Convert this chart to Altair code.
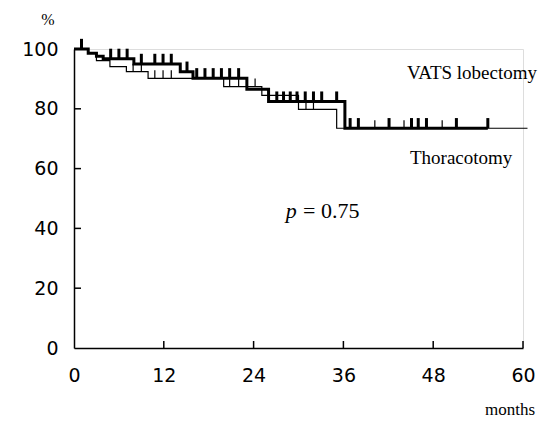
import altair as alt
import pandas as pd

# Kaplan-Meier step curves (months, % surviving)
vats_time = [0, 1.9, 3.0, 3.9, 8.0, 14.2, 15.9, 23.1, 26.0, 36.2, 55.3]
vats_surv = [100, 98.6, 97.6, 96.7, 95.0, 92.4, 90.2, 86.5, 82.4, 73.5, 73.5]
thor_time = [0, 1.9, 3.0, 4.8, 7.0, 9.9, 20.0, 25.1, 30.0, 35.1, 60.6]
thor_surv = [100, 98.6, 96.1, 94.1, 92.4, 90.2, 87.4, 84.5, 79.8, 73.5, 73.5]

# censored observations (months)
vats_censor = [1.0, 4.9, 6.0, 7.1, 9.0, 10.8, 11.9, 13.0, 15.1, 16.4, 17.5, 18.6,
               19.7, 20.8, 22.0, 27.1, 28.0, 28.9, 29.8, 30.9, 32.0, 33.1, 35.1,
               36.9, 38.0, 42.1, 45.1, 46.0, 47.1, 51.1, 55.3]
thor_censor = [7.9, 9.0, 10.8, 11.9, 13.0, 20.8, 22.0, 24.2, 31.0, 32.0, 40.2, 44.1, 49.2]

x_ticks = [0, 12, 24, 36, 48, 60]
y_ticks = [0, 20, 40, 60, 80, 100]


def step_value(times, vals, t):
    v = vals[0]
    for tt, vv in zip(times, vals):
        if tt <= t:
            v = vv
    return v


vats_df = pd.DataFrame({"t": vats_time, "s": vats_surv})
thor_df = pd.DataFrame({"t": thor_time, "s": thor_surv})
vc_df = pd.DataFrame({"t": vats_censor, "s": [step_value(vats_time, vats_surv, t) for t in vats_censor]})
tc_df = pd.DataFrame({"t": thor_censor, "s": [step_value(thor_time, thor_surv, t) for t in thor_censor]})

W, H = 449, 299
xs = alt.Scale(domain=[0, 60], nice=False)
ys = alt.Scale(domain=[0, 100], nice=False)

x_axis = alt.Axis(values=x_ticks, title=None, ticks=False, tickSize=0, grid=False,
                  labelFont="DejaVu Sans", labelFontSize=19, labelColor="black",
                  labelPadding=18, domainColor="black", domainWidth=1.5,
                  labelFlush=False)
y_axis = alt.Axis(values=y_ticks, title=None, ticks=False, tickSize=0, grid=False,
                  labelFont="DejaVu Sans", labelFontSize=19, labelColor="black",
                  labelPadding=16, domainColor="black", domainWidth=1.5,
                  labelFlush=False)

thor_line = alt.Chart(thor_df).mark_line(interpolate="step-after", color="black",
                                          strokeWidth=1.2).encode(
    x=alt.X("t:Q", scale=xs, axis=x_axis),
    y=alt.Y("s:Q", scale=ys, axis=y_axis),
)
vats_line = alt.Chart(vats_df).mark_line(interpolate="step-after", color="black",
                                          strokeWidth=3).encode(
    x=alt.X("t:Q", scale=xs),
    y=alt.Y("s:Q", scale=ys),
)
thor_cens = alt.Chart(tc_df).transform_calculate(top="datum.s + 2.7").mark_rule(
    color="black", strokeWidth=1.2).encode(
    x=alt.X("t:Q", scale=xs), y=alt.Y("s:Q", scale=ys), y2="top:Q")
vats_cens = alt.Chart(vc_df).transform_calculate(top="datum.s + 3.4").mark_rule(
    color="black", strokeWidth=3).encode(
    x=alt.X("t:Q", scale=xs), y=alt.Y("s:Q", scale=ys), y2="top:Q")

# inward axis ticks
xt_df = pd.DataFrame({"v": x_ticks[1:]})
yt_df = pd.DataFrame({"v": y_ticks[1:]})
x_tick_marks = alt.Chart(xt_df).mark_rule(color="black", strokeWidth=1.5).encode(
    x=alt.X("v:Q", scale=xs), y=alt.value(H), y2=alt.value(H - 7))
y_tick_marks = alt.Chart(yt_df).mark_rule(color="black", strokeWidth=1.5).encode(
    y=alt.Y("v:Q", scale=ys), x=alt.value(0), x2=alt.value(7))

labels_df = pd.DataFrame({
    "t": [44.5, 44.9],
    "s": [91.9, 63.5],
    "txt": ["VATS lobectomy", "Thoracotomy"],
})
labels = alt.Chart(labels_df).mark_text(font="Liberation Serif", fontSize=19,
                                        align="left", baseline="middle",
                                        color="black").encode(
    x=alt.X("t:Q", scale=xs), y=alt.Y("s:Q", scale=ys), text="txt:N")

p_df = pd.DataFrame({"t": [28.3], "s": [45.8], "txt": ["p"]})
p_mark = alt.Chart(p_df).mark_text(font="Liberation Serif", fontSize=22, fontStyle="italic",
                                   align="left", baseline="middle", color="black").encode(
    x=alt.X("t:Q", scale=xs), y=alt.Y("s:Q", scale=ys), text="txt:N")
pv_df = pd.DataFrame({"t": [30.6], "s": [45.8], "txt": ["=  0.75"]})
pv_mark = alt.Chart(pv_df).mark_text(font="Liberation Serif", fontSize=22,
                                     align="left", baseline="middle", color="black").encode(
    x=alt.X("t:Q", scale=xs), y=alt.Y("s:Q", scale=ys), text="txt:N")

unit_df = pd.DataFrame({"txt": ["%"]})
pct_mark = alt.Chart(unit_df).mark_text(font="Liberation Serif", fontSize=16,
                                        align="center", baseline="middle",
                                        color="black").encode(
    x=alt.value(-26), y=alt.value(-29), text="txt:N")
mon_df = pd.DataFrame({"txt": ["months"]})
mon_mark = alt.Chart(mon_df).mark_text(font="Liberation Serif", fontSize=17,
                                       align="right", baseline="middle",
                                       color="black").encode(
    x=alt.value(W + 12), y=alt.value(H + 62), text="txt:N")

chart = alt.layer(
    thor_line, vats_line, thor_cens, vats_cens, x_tick_marks, y_tick_marks,
    labels, p_mark, pv_mark, pct_mark, mon_mark,
).properties(
    width=W, height=H,
    autosize=alt.AutoSizeParams(type="none"),
    padding={"left": 66, "top": 41, "right": 16, "bottom": 71},
).configure_view(stroke=None).configure(background="white")

chart.save("out.html", embed_options={"renderer": "svg", "actions": False})
